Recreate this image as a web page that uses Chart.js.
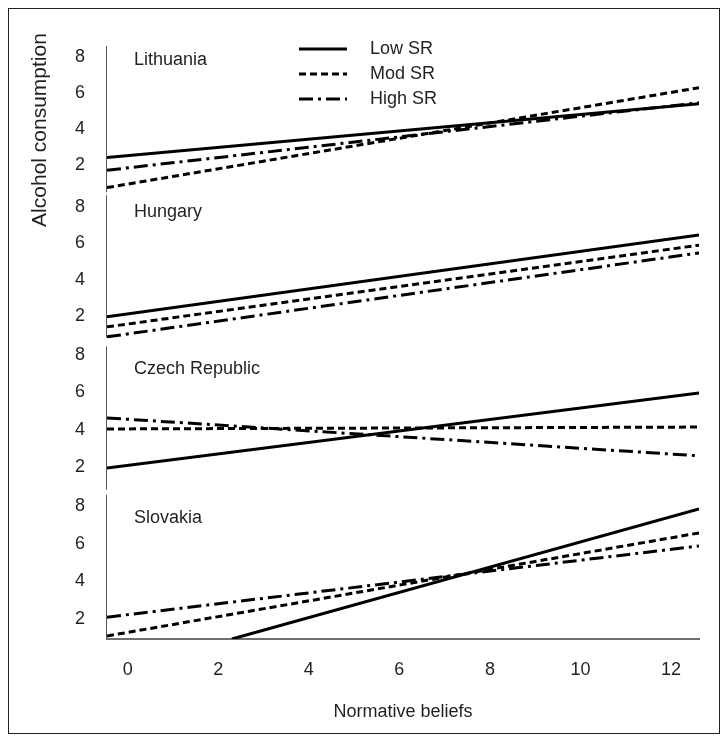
<!DOCTYPE html>
<html><head><meta charset="utf-8">
<script src="https://cdn.jsdelivr.net/npm/chart.js@4.4.1/dist/chart.umd.min.js"></script>
<style>
html,body{margin:0;padding:0;background:#fff;}
#wrap{position:relative;width:726px;height:740px;}
#frame{position:absolute;left:8px;top:8px;width:710px;height:724px;border:1px solid #231f20;pointer-events:none;}
canvas{position:absolute;left:0;top:0;}
</style></head><body>
<div id="wrap"><canvas id="c" width="726" height="740"></canvas><div id="frame"></div></div>
<script>
// ---- data ----
const countries = ['Lithuania', 'Hungary', 'Czech Republic', 'Slovakia'];
const seriesNames = ['Low SR', 'Mod SR', 'High SR'];
const xTickValues = [0, 2, 4, 6, 8, 10, 12];
const yTickValues = [2, 4, 6, 8];
const yMin = [0.40, 0.54, 0.73, 0.94];   // visible range of each panel's y axis
const yMax = [8.61, 8.70, 8.67, 8.81];
const xEnds = [-0.46, 12.62];          // normative beliefs at the two ends of each line
const slovakiaLowX = [2.3, 12.62];     // Slovakia Low SR enters the panel at x = 2.3

const lithuaniaLow  = [2.44, 5.41];
const lithuaniaMod  = [0.77, 6.30];
const lithuaniaHigh = [1.73, 5.47];

const hungaryLow  = [1.95, 6.46];
const hungaryMod  = [1.40, 5.90];
const hungaryHigh = [0.85, 5.47];

const czechLow  = [1.95, 5.96];
const czechMod  = [4.04, 4.14];
const czechHigh = [4.63, 2.60];

const slovakiaLow  = [0.94, 7.84];
const slovakiaMod  = [1.10, 6.57];
const slovakiaHigh = [2.10, 5.88];

const panelSeries = [
  [lithuaniaLow, lithuaniaMod, lithuaniaHigh],
  [hungaryLow, hungaryMod, hungaryHigh],
  [czechLow, czechMod, czechHigh],
  [slovakiaLow, slovakiaMod, slovakiaHigh]
];
const panelX = [
  [xEnds, xEnds, xEnds],
  [xEnds, xEnds, xEnds],
  [xEnds, xEnds, xEnds],
  [slovakiaLowX, xEnds, xEnds]
];

// ---- styles ----
const FONT = 'Liberation Sans, Arial, sans-serif';
const TXT = '#231f20';
const dashes = [[], [7, 4], [14, 5, 3, 5]];

const datasets = [];
panelSeries.forEach((group, p) => {
  group.forEach((vals, s) => {
    datasets.push({
      label: seriesNames[s],
      data: vals.map((v, i) => ({x: panelX[p][s][i], y: v})),
      xAxisID: 'x',
      yAxisID: 'y' + p,
      borderColor: '#000',
      backgroundColor: '#000',
      borderWidth: 3,
      borderDash: dashes[s],
      borderCapStyle: 'butt',
      pointRadius: 0,
      tension: 0,
      fill: false
    });
  });
});

const scales = {
  x: {
    type: 'linear', position: 'bottom',
    min: xEnds[0], max: xEnds[1],
    afterBuildTicks: s => { s.ticks = xTickValues.map(v => ({value: v})); },
    afterFit: s => { s.height = 91; },
    grid: {display: false, drawTicks: false},
    border: {display: true, color: '#707070', width: 2},
    ticks: {color: TXT, font: {family: FONT, size: 18}, padding: 20, maxRotation: 0},
    title: {display: true, text: 'Normative beliefs', color: TXT, font: {family: FONT, size: 18}, padding: {top: 0, bottom: 7}}
  }
};
// stacked axes are laid out bottom-up, so add the lowest panel first
for (let p = countries.length - 1; p >= 0; p--) {
  scales['y' + p] = {
    type: 'linear', position: 'left',
    stack: 'panels', stackWeight: 1,
    min: yMin[p], max: yMax[p],
    afterBuildTicks: s => { s.ticks = yTickValues.map(v => ({value: v})); },
    afterFit: s => { s.width = 107; },
    grid: {display: false, drawTicks: false},
    border: {display: false},
    ticks: {color: TXT, font: {family: FONT, size: 18}, padding: 22}
  };
}

// small breaks between the panels' vertical axis lines
const axisInsets = [[0, 2], [1, 5], [4, 1], [4, 0]];
const panelAxes = {
  id: 'panelAxes',
  beforeDatasetsDraw(chart) {
    const ctx = chart.ctx;
    ctx.save();
    ctx.strokeStyle = '#555';
    ctx.lineWidth = 1;
    countries.forEach((c, p) => {
      const sc = chart.scales['y' + p];
      const x = Math.round(sc.right) - 0.5;
      ctx.beginPath();
      ctx.moveTo(x, sc.top + axisInsets[p][0]);
      ctx.lineTo(x, sc.bottom - axisInsets[p][1]);
      ctx.stroke();
    });
    ctx.restore();
  }
};

const labelOffsets = [14, 18, 27, 27];
const panelLabels = {
  id: 'panelLabels',
  afterDatasetsDraw(chart) {
    const ctx = chart.ctx, a = chart.chartArea;
    ctx.save();
    ctx.fillStyle = TXT;
    ctx.font = '18px ' + FONT;
    ctx.textBaseline = 'middle';
    ctx.textAlign = 'left';
    countries.forEach((c, p) => {
      const sc = chart.scales['y' + p];
      ctx.fillText(c, a.left + 27, sc.top + labelOffsets[p]);
    });
    // shared y-axis title
    ctx.translate(a.left - 67, a.top + 84);
    ctx.rotate(-Math.PI / 2);
    ctx.textAlign = 'center';
    ctx.font = '21px ' + FONT;
    ctx.fillText('Alcohol consumption', 0, 0);
    ctx.restore();
  }
};

const srLegend = {
  id: 'srLegend',
  afterDatasetsDraw(chart) {
    const ctx = chart.ctx, a = chart.chartArea;
    ctx.save();
    seriesNames.forEach((name, s) => {
      const y = a.top + 3 + s * 25;
      const ds = chart.data.datasets[s];
      ctx.strokeStyle = '#000';
      ctx.lineWidth = ds.borderWidth;
      ctx.setLineDash(ds.borderDash);
      ctx.beginPath();
      ctx.moveTo(a.left + 192, y);
      ctx.lineTo(a.left + 240, y);
      ctx.stroke();
      ctx.setLineDash([]);
      ctx.fillStyle = TXT;
      ctx.font = '18px ' + FONT;
      ctx.textBaseline = 'middle';
      ctx.fillText(name, a.left + 263, y);
    });
    ctx.restore();
  }
};

new Chart(document.getElementById('c'), {
  type: 'line',
  data: {datasets},
  options: {
    responsive: false,
    animation: false,
    layout: {padding: {left: 0, right: 27, top: 46, bottom: 10}},
    plugins: {legend: {display: false}, tooltip: {enabled: false}},
    scales
  },
  plugins: [panelAxes, panelLabels, srLegend]
});
</script>
</body></html>
